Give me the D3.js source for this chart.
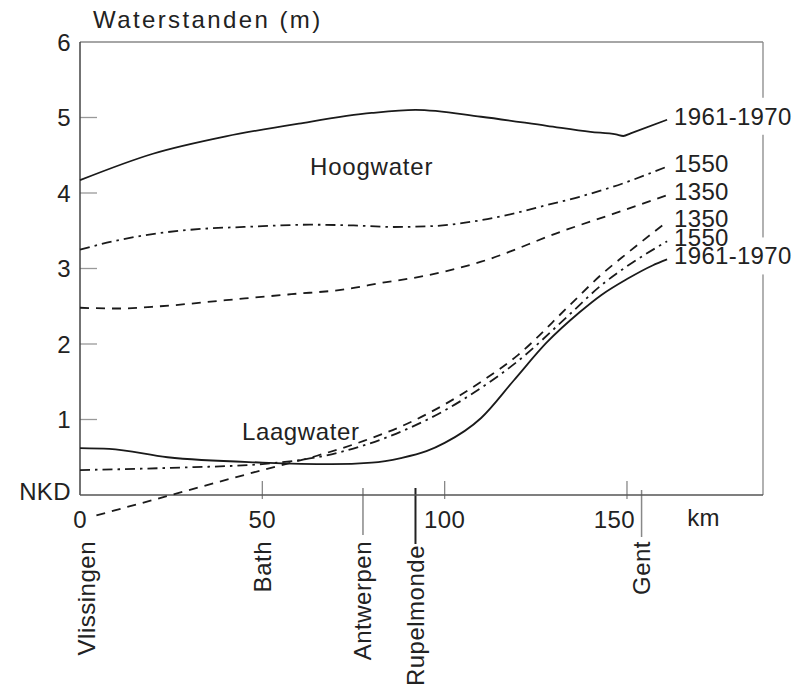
<!DOCTYPE html>
<html><head><meta charset="utf-8">
<script src="https://cdn.jsdelivr.net/npm/d3@7"></script>
<style>
body{margin:0;background:#fff;}
text{font-family:"Liberation Sans",Arial,sans-serif;fill:#222;}
</style></head>
<body><svg id="c" width="802" height="687"></svg>
<script>
// ---- data ----
const yTicks = [0,1,2,3,4,5,6];
const yTickLabels = ["NKD","1","2","3","4","5","6"];
const xTicks = [50,100,150];
const xTickLabels = ["0","50","100","150"];
const xTickLabelKm = [0,50,100,150];
const places = ["Vlissingen","Bath","Antwerpen","Rupelmonde","Gent"];
const placeKm = [0,50,77.6,92,154];

// Hoogwater (high water)
const hw1961Km = [0,20,40,60,80,92,110,128,140,147,149,151,161];
const hw1961   = [4.17,4.52,4.75,4.92,5.06,5.10,5.01,4.89,4.81,4.775,4.755,4.79,4.97];
const hw1550Km = [0,10,22,35,45,63,75,86,96,110,120,128,137,146,161];
const hw1550   = [3.25,3.37,3.47,3.53,3.55,3.58,3.57,3.55,3.56,3.64,3.74,3.84,3.95,4.08,4.35];
const hw1350Km = [0,10,22,40,58,72,84,92,110,132,146,161];
const hw1350   = [2.48,2.47,2.50,2.58,2.66,2.72,2.82,2.88,3.09,3.49,3.72,3.97];
// Laagwater (low water)
const lw1350Km = [4.5,25,50,65,78,90,100,110,120,134,143,150,161];
const lw1350   = [-0.27,0,0.33,0.52,0.72,0.95,1.2,1.5,1.85,2.5,2.92,3.2,3.62];
const lw1550Km = [0,25,50,65,78,90,100,110,120,134,143,150,161];
const lw1550   = [0.33,0.36,0.41,0.5,0.66,0.88,1.12,1.42,1.77,2.38,2.78,3.03,3.36];
const lw1961Km = [0,8,24,50,69,80,88,95,100,110,119,128,137,143,150,157,161];
const lw1961   = [0.62,0.61,0.5,0.43,0.41,0.43,0.49,0.58,0.69,1.02,1.52,2.02,2.42,2.65,2.86,3.04,3.12];

const seriesNames = ["1961-1970","1550","1350","1350","1550","1961-1970"];
const seriesKm = [hw1961Km,hw1550Km,hw1350Km,lw1350Km,lw1550Km,lw1961Km];
const seriesVal = [hw1961,hw1550,hw1350,lw1350,lw1550,lw1961];
const seriesDash = [null,"10,5,2.5,5","9,7","9,7","10,5,2.5,5",null];

// ---- layout ----
const svg = d3.select("#c");
const L=80, R=763, T=42, B=495;
const x = d3.scaleLinear().domain([0,187.3]).range([L,R]);
const y = d3.scaleLinear().domain([0,6]).range([B,T]);
const fs = 24;

// frame
svg.append("line").attr("x1",L).attr("x2",R).attr("y1",T).attr("y2",T).attr("stroke","#888").attr("stroke-width",1.3);
svg.append("line").attr("x1",R).attr("x2",R).attr("y1",T).attr("y2",B).attr("stroke","#888").attr("stroke-width",1.3);

// y axis
svg.selectAll(".yt").data(yTicks.filter(d=>d>0 && d<6)).join("line")
  .attr("x1",L).attr("x2",L+17).attr("y1",d=>y(d)).attr("y2",d=>y(d))
  .attr("stroke","#999").attr("stroke-width",1.3);
svg.selectAll(".yl").data(yTicks).join("text")
  .attr("x",L-9).attr("y",(d,i)=>y(d)+ (i===0? -4:0)).attr("dy","0.36em")
  .attr("text-anchor","end").attr("font-size",fs).attr("letter-spacing",0.4)
  .text((d,i)=>yTickLabels[i]);
svg.append("line").attr("x1",L).attr("x2",L).attr("y1",T).attr("y2",B).attr("stroke","#444").attr("stroke-width",1.5);

// x axis
svg.selectAll(".xt").data(xTicks).join("line")
  .attr("x1",d=>x(d)).attr("x2",d=>x(d)).attr("y1",B-14).attr("y2",B+4)
  .attr("stroke","#888").attr("stroke-width",1.3);
svg.selectAll(".xl").data(xTickLabelKm).join("text")
  .attr("x",(d,i)=> i===3 ? x(d)+8 : x(d)).attr("y",B+33)
  .attr("text-anchor",(d,i)=> i===3 ? "end":"middle")
  .attr("font-size",fs).attr("letter-spacing",0.4)
  .text((d,i)=>xTickLabels[i]);
svg.append("text").attr("x",x(171)).attr("y",B+31).attr("text-anchor","middle")
  .attr("font-size",fs).attr("letter-spacing",0.4).text("km");

// place markers
const markerStyle = {"Antwerpen":["#888",1.5,B-7,B+40],"Rupelmonde":["#222",2,B-7,B+49],"Gent":["#888",1.5,B-5,B+42]};
places.forEach((p,i)=>{
  const m = markerStyle[p];
  if(m) svg.append("line").attr("x1",x(placeKm[i])).attr("x2",x(placeKm[i]))
     .attr("y1",m[2]).attr("y2",m[3]).attr("stroke",m[0]).attr("stroke-width",m[1]);
});
svg.append("line").attr("x1",L).attr("x2",R).attr("y1",B).attr("y2",B).attr("stroke","#555").attr("stroke-width",1.5);
svg.selectAll(".pl").data(places).join("text")
  .attr("transform",(d,i)=>`translate(${x(placeKm[i]) + (i===0?7:0)},${d==="Rupelmonde"?545:541}) rotate(-90)`)
  .attr("dy","0.35em").attr("text-anchor","end")
  .attr("font-size",fs).attr("letter-spacing",0.5).text(d=>d);

// lines
const line = d3.line().x(d=>x(d[0])).y(d=>y(d[1])).curve(d3.curveMonotoneX);
seriesKm.forEach((km,i)=>{
  const pts = km.map((k,j)=>[k,seriesVal[i][j]]);
  svg.append("path").datum(pts).attr("d",line).attr("fill","none")
    .attr("stroke","#1a1a1a").attr("stroke-width",1.8)
    .attr("stroke-dasharray",seriesDash[i]);
});

// series labels with white backgrounds (rects first, texts on top)
const rectLayer = svg.append("g"), textLayer = svg.append("g");
seriesNames.forEach((n,i)=>{
  const km = seriesKm[i], v = seriesVal[i];
  const t = textLayer.append("text").attr("x",x(km[km.length-1])+7).attr("y",y(v[v.length-1])+5)
    .attr("font-size",fs).attr("letter-spacing",0.3).text(n);
  const bb = t.node().getBBox();
  rectLayer.append("rect").attr("x",bb.x-1).attr("y",bb.y-5).attr("width",bb.width+2).attr("height",bb.height+10).attr("fill","#fff");
});

// annotations
svg.append("text").attr("x",93).attr("y",28).attr("font-size",fs).attr("letter-spacing",2.4).text("Waterstanden (m)");
svg.append("text").attr("x",310).attr("y",175).attr("font-size",fs).attr("letter-spacing",0.8).text("Hoogwater");
svg.append("text").attr("x",242).attr("y",440).attr("font-size",fs).attr("letter-spacing",0.6).text("Laagwater");
</script></body></html>
